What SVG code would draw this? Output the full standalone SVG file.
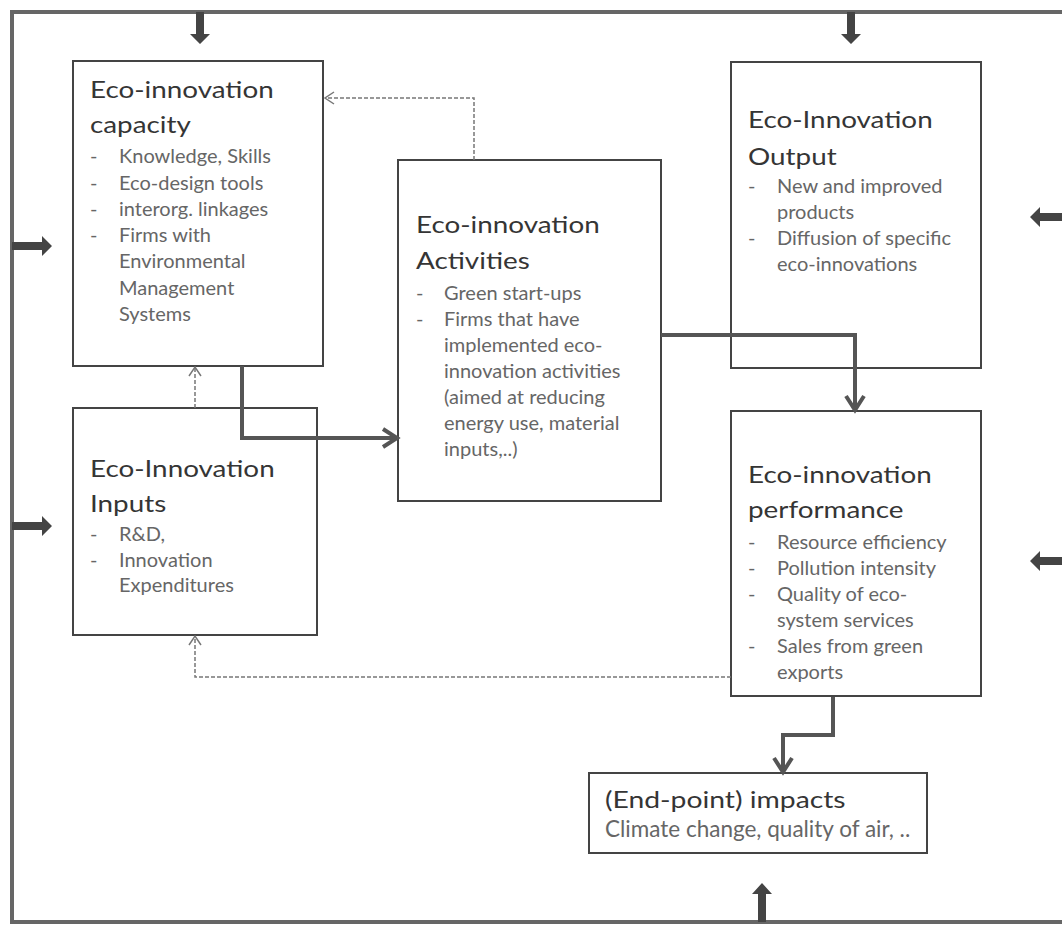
<svg xmlns="http://www.w3.org/2000/svg" width="1062" height="927" viewBox="0 0 1062 927">
<defs>
<style>
.box{fill:#fff;stroke:#444;stroke-width:2}
.t{font-family:Lato,"Open Sans",sans-serif;font-size:23px;fill:#353535}
.b{font-family:Lato,"Open Sans",sans-serif;font-size:20px;fill:#666}
.s{font-family:Lato,"Open Sans",sans-serif;font-size:22.5px;fill:#666}
.frame{fill:none;stroke:#666;stroke-width:4}
.thick{fill:none;stroke:#555;stroke-width:4}
.dash{fill:none;stroke:#777;stroke-width:1.5;stroke-dasharray:4 2}
.ext{fill:#444}
</style>
<marker id="ah" viewBox="0 0 22 22" refX="17" refY="11" markerWidth="22" markerHeight="22" markerUnits="userSpaceOnUse" orient="auto">
<path d="M3,2 L17,11 L3,20" fill="none" stroke="#555" stroke-width="4"/>
</marker>
<marker id="dh" viewBox="0 0 14 14" refX="12" refY="7" markerWidth="14" markerHeight="14" markerUnits="userSpaceOnUse" orient="auto">
<path d="M3,1 L12,7 L3,13" fill="none" stroke="#777" stroke-width="1.5"/>
</marker>
</defs>
<rect width="1062" height="927" fill="#fff"/>
<g id="frame">
<path class="frame" d="M1070,12 L12,12 L12,922 L1070,922"/>
<path class="ext" d="M196,12 h8 v22 h6 l-10,10 l-10,-10 h6 z"/>
<path class="ext" d="M847,12 h8 v22 h6 l-10,10 l-10,-10 h6 z"/>
<path class="ext" d="M12,242 v8 h30 v6 l10,-10 l-10,-10 v6 z"/>
<path class="ext" d="M12,522 v8 h30 v6 l10,-10 l-10,-10 v6 z"/>
<path class="ext" d="M1062,213 v8 h-22 v6 l-10,-10 l10,-10 v6 z"/>
<path class="ext" d="M1062,557 v8 h-22 v6 l-10,-10 l10,-10 v6 z"/>
<path class="ext" d="M758,922 h8 v-28 h6 l-10,-11 l-10,11 h6 z"/>
</g>
<g id="capacity">
<rect class="box" x="73" y="61" width="250" height="305"/>
<text class="t" transform="translate(90 98) scale(1.21 1)">Eco-innovation</text>
<text class="t" transform="translate(90 133) scale(1.21 1)">capacity</text>
<g class="b">
<text x="90" y="163">-</text><text x="119" y="163">Knowledge, Skills</text>
<text x="90" y="190">-</text><text x="119" y="190">Eco-design tools</text>
<text x="90" y="216">-</text><text x="119" y="216">interorg. linkages</text>
<text x="90" y="242">-</text><text x="119" y="242">Firms with</text>
<text x="119" y="268">Environmental</text>
<text x="119" y="295">Management</text>
<text x="119" y="321">Systems</text>
</g>
</g>
<g id="inputs">
<rect class="box" x="73" y="408" width="244" height="227"/>
<text class="t" transform="translate(90 477) scale(1.21 1)">Eco-Innovation</text>
<text class="t" transform="translate(90 512) scale(1.21 1)">Inputs</text>
<g class="b">
<text x="90" y="541">-</text><text x="119" y="541">R&amp;D,</text>
<text x="90" y="567">-</text><text x="119" y="567">Innovation</text>
<text x="119" y="592">Expenditures</text>
</g>
</g>
<g id="activities">
<rect class="box" x="398" y="160" width="263" height="341"/>
<text class="t" transform="translate(416 233) scale(1.21 1)">Eco-innovation</text>
<text class="t" transform="translate(416 269) scale(1.21 1)">Activities</text>
<g class="b">
<text x="416" y="300">-</text><text x="444" y="300">Green start-ups</text>
<text x="416" y="326">-</text><text x="444" y="326">Firms that have</text>
<text x="444" y="352">implemented eco-</text>
<text x="444" y="378">innovation activities</text>
<text x="444" y="404">(aimed at reducing</text>
<text x="444" y="430">energy use, material</text>
<text x="444" y="456">inputs,..)</text>
</g>
</g>
<g id="output">
<rect class="box" x="731" y="62" width="250" height="306"/>
<text class="t" transform="translate(748 128) scale(1.21 1)">Eco-Innovation</text>
<text class="t" transform="translate(748 165) scale(1.21 1)">Output</text>
<g class="b">
<text x="748" y="193">-</text><text x="777" y="193">New and improved</text>
<text x="777" y="219">products</text>
<text x="748" y="245">-</text><text x="777" y="245">Diffusion of specific</text>
<text x="777" y="271">eco-innovations</text>
</g>
</g>
<g id="performance">
<rect class="box" x="731" y="411" width="250" height="285"/>
<text class="t" transform="translate(748 483) scale(1.21 1)">Eco-innovation</text>
<text class="t" transform="translate(748 518) scale(1.21 1)">performance</text>
<g class="b">
<text x="748" y="549">-</text><text x="777" y="549">Resource efficiency</text>
<text x="748" y="575">-</text><text x="777" y="575">Pollution intensity</text>
<text x="748" y="601">-</text><text x="777" y="601">Quality of eco-</text>
<text x="777" y="627">system services</text>
<text x="748" y="653">-</text><text x="777" y="653">Sales from green</text>
<text x="777" y="679">exports</text>
</g>
</g>
<g id="impacts">
<rect class="box" x="589" y="773" width="338" height="80"/>
<text class="t" transform="translate(605 808) scale(1.23 1)">(End-point) impacts</text>
<text class="s" x="605" y="837">Climate change, quality of air, ..</text>
</g>
<g id="connectors">
<path class="dash" d="M474,160 V98 H325" marker-end="url(#dh)"/>
<path class="dash" d="M195,408 V367" marker-end="url(#dh)"/>
<path class="dash" d="M731,677 H195 V636" marker-end="url(#dh)"/>
<path class="thick" d="M242,366 V438 H397" marker-end="url(#ah)"/>
<path class="thick" d="M661,335 H855 V410" marker-end="url(#ah)"/>
<path class="thick" d="M833,697 V735 H783 V772" marker-end="url(#ah)"/>
</g>
</svg>
